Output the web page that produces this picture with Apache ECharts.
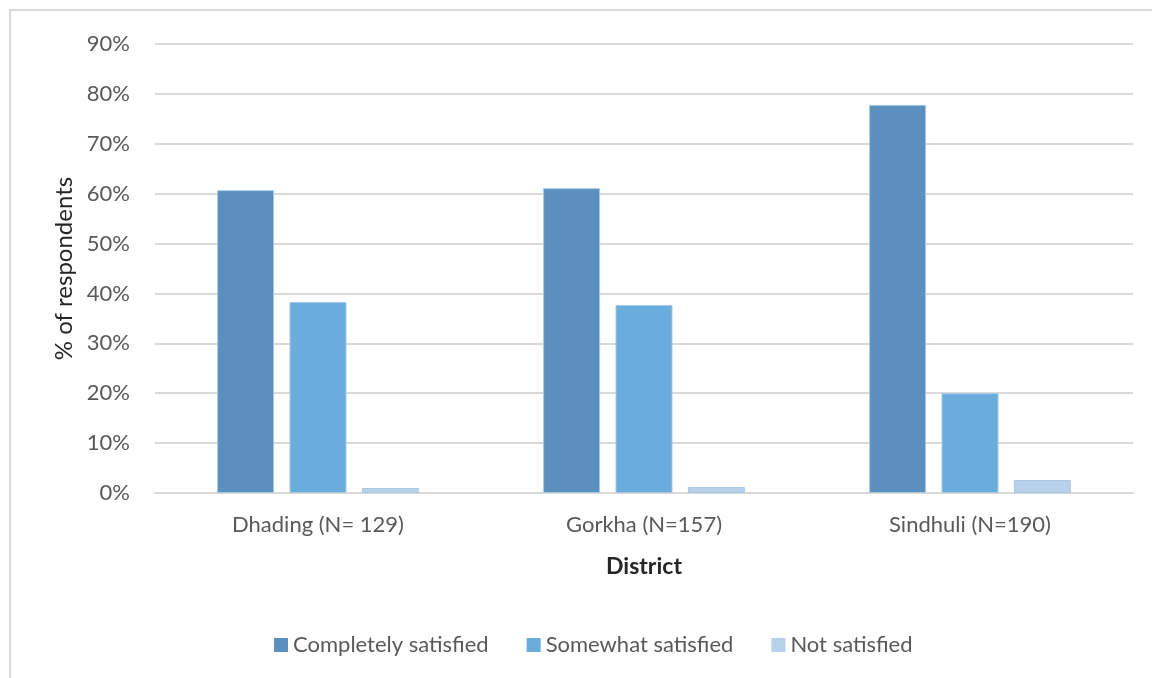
<!DOCTYPE html>
<html>
<head>
<meta charset="utf-8">
<script src="https://cdn.jsdelivr.net/npm/echarts@6/dist/echarts.min.js"></script>
<style>
  html, body { margin: 0; padding: 0; background: #fff; }
  #chart { width: 1152px; height: 678px; }
</style>
</head>
<body>
<div id="chart"></div>
<script>
// Satisfaction by district (% of respondents)
const districts = ['Dhading (N= 129)', 'Gorkha (N=157)', 'Sindhuli (N=190)'];
const completelySatisfied = [60.7, 61.1, 77.8];
const somewhatSatisfied = [38.3, 37.7, 20.0];
const notSatisfied = [1.0, 1.2, 2.6];
const seriesNames = ['Completely satisfied', 'Somewhat satisfied', 'Not satisfied'];
const seriesColors = ['#5A8FBE', '#6AACDC', '#B8D0EA'];

const font = 'Lato, "Open Sans", sans-serif';
const chart = echarts.init(document.getElementById('chart'));

const seriesData = [completelySatisfied, somewhatSatisfied, notSatisfied];

chart.setOption({
  animation: false,
  textStyle: { fontFamily: font },
  graphic: [{
    type: 'rect',
    shape: { x: 10, y: 10, width: 1200, height: 700 },
    style: { fill: 'none', stroke: '#d9d9d9', lineWidth: 2 },
    silent: true
  }],
  grid: { left: 155, right: 19, top: 44, bottom: 185 },
  legend: {
    top: 629,
    left: 269,
    itemWidth: 14,
    itemHeight: 14,
    itemGap: 38,
    icon: 'rect',
    itemStyle: { borderWidth: 0 },
    textStyle: { fontFamily: font, fontSize: 22, color: '#595959', padding: [0, 0, 0, 0] },
    data: seriesNames
  },
  xAxis: {
    type: 'category',
    data: districts,
    name: 'District',
    nameLocation: 'middle',
    nameGap: 62,
    nameTextStyle: { fontFamily: font, fontSize: 23, fontWeight: 'bold', color: '#262626' },
    axisLine: { show: true, lineStyle: { color: '#d9d9d9', width: 2 } },
    axisTick: { show: false },
    axisLabel: { fontSize: 22, color: '#595959', margin: 21 }
  },
  yAxis: {
    type: 'value',
    min: 0,
    max: 90,
    interval: 10,
    name: '% of respondents',
    nameLocation: 'middle',
    nameGap: 77,
    nameTextStyle: { fontFamily: font, fontSize: 24, color: '#262626' },
    axisLine: { show: false },
    axisTick: { show: false },
    axisLabel: { fontSize: 22, color: '#595959', margin: 25, formatter: '{value}%' },
    splitLine: { lineStyle: { color: '#d9d9d9', width: 2 } }
  },
  series: seriesNames.map((name, i) => ({
    name: name,
    type: 'bar',
    data: seriesData[i],
    barWidth: 57,
    barGap: '27%',
    itemStyle: { color: seriesColors[i], borderColor: '#a9c8e6', borderWidth: 1 }
  }))
});
</script>
</body>
</html>
